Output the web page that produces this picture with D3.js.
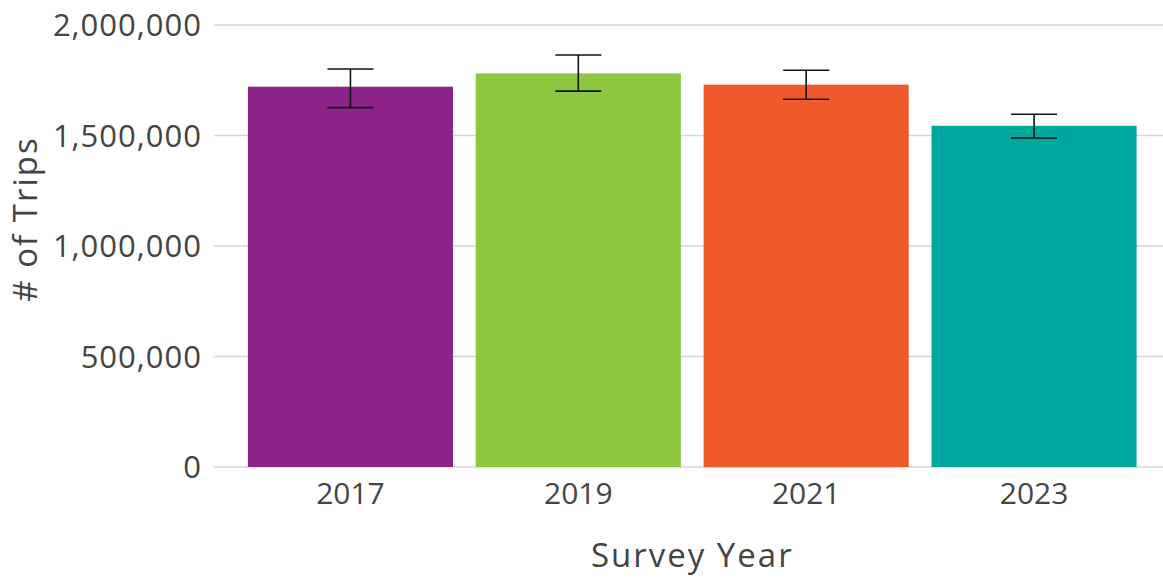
<!DOCTYPE html>
<html>
<head>
<meta charset="utf-8">
<script src="https://cdn.jsdelivr.net/npm/d3@7"></script>
<style>
  html, body { margin: 0; padding: 0; background: #fff; }
  svg text { font-family: "Open Sans", "Noto Sans", sans-serif; fill: #444; }
</style>
</head>
<body>
<svg id="chart" width="1163" height="580"></svg>
<script>
const years = ["2017", "2019", "2021", "2023"];
const trips = [1721000, 1781000, 1730000, 1544000];
const errLow = [1626000, 1701000, 1664000, 1489000];
const errHigh = [1801000, 1864000, 1795000, 1596000];
const colors = ["#8E248A", "#8DC63F", "#F05A2A", "#00A79D"];
const yTicks = [0, 500000, 1000000, 1500000, 2000000];

const data = years.map((y, i) => ({ year: y, v: trips[i], lo: errLow[i], hi: errHigh[i], c: colors[i] }));

const svg = d3.select("#chart");
const x = d3.scaleBand().domain(years).range([236.5, 1148]).paddingInner(0.1).paddingOuter(0.05);
const y = d3.scaleLinear().domain([0, 2000000]).range([467, 25]);
const fmt = d3.format(",");

// grid
svg.append("g").selectAll("line").data(yTicks).join("line")
  .attr("x1", 214).attr("x2", 1163)
  .attr("y1", d => y(d)).attr("y2", d => y(d))
  .attr("stroke", "#d6d6d6").attr("stroke-width", 1.5);

// y axis labels
const yAxis = svg.append("g").attr("transform", "translate(214,0)")
  .call(d3.axisLeft(y).tickValues(yTicks).tickFormat(fmt).tickSize(0).tickPadding(12));
yAxis.select(".domain").remove();
yAxis.selectAll("text").attr("font-size", 31).attr("letter-spacing", 1)
  .style("fill", "#444").attr("dy", "0.35em");

// bars
svg.append("g").selectAll("rect").data(data).join("rect")
  .attr("x", d => x(d.year)).attr("width", x.bandwidth())
  .attr("y", d => y(d.v)).attr("height", d => y(0) - y(d.v))
  .attr("fill", d => d.c);

// error bars
const eb = svg.append("g").selectAll("g").data(data).join("g")
  .attr("stroke", "#111").attr("stroke-width", 1.6);
eb.append("line")
  .attr("x1", d => x(d.year) + x.bandwidth() / 2).attr("x2", d => x(d.year) + x.bandwidth() / 2)
  .attr("y1", d => y(d.hi)).attr("y2", d => y(d.lo));
eb.append("line")
  .attr("x1", d => x(d.year) + x.bandwidth() / 2 - 23).attr("x2", d => x(d.year) + x.bandwidth() / 2 + 23)
  .attr("y1", d => y(d.hi)).attr("y2", d => y(d.hi));
eb.append("line")
  .attr("x1", d => x(d.year) + x.bandwidth() / 2 - 23).attr("x2", d => x(d.year) + x.bandwidth() / 2 + 23)
  .attr("y1", d => y(d.lo)).attr("y2", d => y(d.lo));

// x axis labels
const xAxis = svg.append("g").attr("transform", "translate(0,467)")
  .call(d3.axisBottom(x).tickSize(0).tickPadding(16));
xAxis.select(".domain").remove();
xAxis.selectAll("text").attr("font-size", 30).style("fill", "#444");

// axis titles
svg.append("text").attr("x", (236.5 + 1148) / 2).attr("y", 567)
  .attr("text-anchor", "middle").attr("font-size", 33).attr("letter-spacing", 2).text("Survey Year");
svg.append("text").attr("transform", "translate(37,219) rotate(-90)")
  .attr("text-anchor", "middle").attr("font-size", 33).attr("letter-spacing", 2).text("# of Trips");
</script>
</body>
</html>
